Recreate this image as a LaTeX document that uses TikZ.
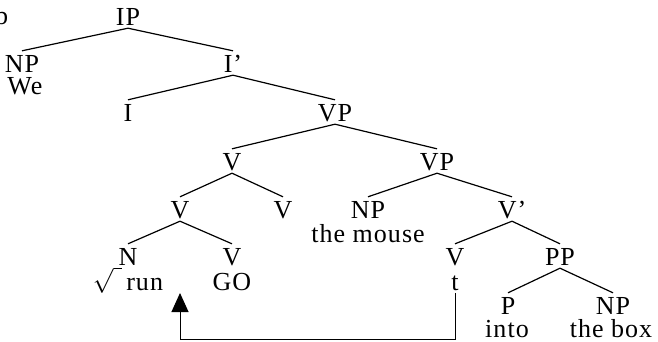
\documentclass[tikz,border=0pt]{standalone}
\usepackage{amsmath}
\usepackage{fontspec}
\setmainfont{Liberation Serif}[LetterSpace=4]
\usepackage{tikz}
\usetikzlibrary{arrows.meta}

\begin{document}
\begin{tikzpicture}[x=1pt, y=-1pt,
        every node/.style={font=\fontsize{26}{30}\selectfont},
        cat/.style={anchor=base, text height=18pt, text depth=0pt, inner sep=3pt},
        word/.style={anchor=base, inner sep=0.5pt},
        branch/.style={line width=1.2pt},
        trace/.style={line width=1pt, -{Triangle[length=19pt, width=17pt]}}]
        \useasboundingbox (0,0) rectangle (658,341);

        \node[anchor=base west, inner sep=0pt] (tag) at (-5,24) {b};

        \node[cat] (ip) at (128,25) {IP};
        \node[cat] (np1) at (22,72) {NP};
        \node[word] (we) at (25,94) {We};
        \node[cat] (ib) at (233,72) {I'};
        \node[cat] (i) at (128,121) {I};
        \node[cat] (vp1) at (335,121) {VP};
        \node[cat] (v1) at (232,170) {V};
        \node[cat] (vp2) at (437,170) {VP};
        \node[cat] (v2) at (180,218) {V};
        \node[cat] (v3) at (283,218) {V};
        \node[cat] (np2) at (368,218) {NP};
        \node[word] (mouse) at (368,242) {the mouse};
        \node[cat] (vb) at (512,218) {V'};
        \node[cat] (n) at (128,265) {N};
        \node[cat] (v4) at (232,265) {V};
        \node[cat] (v5) at (455,265) {V};
        \node[cat] (pp) at (560,265) {PP};
        \node[word] (run) at (128,290) {$\sqrt{\phantom{i}}$\,run};
        \node[word] (go) at (232,290) {GO};
        \node[word] (t) at (455,290) {t};
        \node[cat] (p) at (508,314) {P};
        \node[cat] (np3) at (613,314) {NP};
        \node[word] (into) at (507,337) {into};
        \node[word] (box) at (611,337) {the box};

        \coordinate (gap) at (180,293);
        \coordinate (low) at (180,339);

        \draw[branch] (ip.south) to (np1.north)
            (ip.south) to (ib.north)
            (ib.south) to (i.north)
            (ib.south) to (vp1.north)
            (vp1.south) to (v1.north)
            (vp1.south) to (vp2.north)
            (v1.south) to (v2.north)
            (v1.south) to (v3.north)
            (vp2.south) to (np2.north)
            (vp2.south) to (vb.north)
            (v2.south) to (n.north)
            (v2.south) to (v4.north)
            (vb.south) to (v5.north)
            (vb.south) to (pp.north)
            (pp.south) to (p.north)
            (pp.south) to (np3.north);
        \draw[trace] (t.south) ++(0,2) |- (low) -- (gap);
    \end{tikzpicture}
\end{document}
